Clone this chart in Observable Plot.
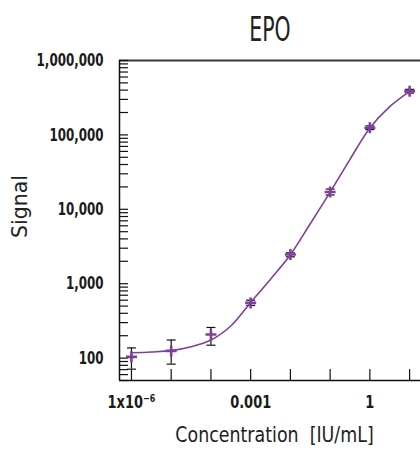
<!DOCTYPE html>
<html>
<head>
<meta charset="utf-8">
<script src="https://cdn.jsdelivr.net/npm/d3@7"></script>
<script src="https://cdn.jsdelivr.net/npm/@observablehq/plot@0.6"></script>
<style>
  html, body { margin: 0; padding: 0; background: #fff; }
  #chart svg { display: block; }
</style>
</head>
<body>
<div id="chart"></div>
<script>
// Concentrations (IU/mL) and measured signal with error bars
const concentrations = [1e-6, 1e-5, 1e-4, 1e-3, 1e-2, 1e-1, 1, 10];
const signal = [104, 125, 208, 552, 2465, 17060, 125000, 387000];
const errLow = [71, 83, 149, 510, 2300, 15600, 118000, 365000];
const errHigh = [137, 175, 258, 600, 2600, 18700, 132000, 410000];

// Fitted curve
const curveX = [1e-6, 10**-5.5, 1e-5, 10**-4.5, 1e-4, 10**-3.5, 1e-3, 10**-2.5, 1e-2, 10**-1.5, 1e-1, 10**-0.5, 1, 10**0.5, 10];
const curveY = [118, 121, 126, 142, 175, 270, 560, 1150, 2450, 6400, 17000, 47000, 124000, 240000, 385000];

// Tick labels
const yTickValues = [100, 1000, 10000, 100000, 1000000];
const xTickValues = [1e-6, 1e-3, 1];
const xTickLabels = ["1x10\u207B\u2076", "0.001", "1"];

const points = concentrations.map((c, i) => ({c, s: signal[i], lo: errLow[i], hi: errHigh[i]}));
const curve = curveX.map((c, i) => ({c, s: curveY[i]}));
const xLabelMap = new Map(xTickValues.map((v, i) => [v, xTickLabels[i]]));

const yDomain = [50, 1e6];
const xDomain = [5e-7, 18.8];
const yMinorTicks = d3.scaleLog().domain(yDomain).ticks();

const purple = "#80409a";
const ink = "#1a1a1a";
const font = "'DejaVu Sans', sans-serif";

const plusSymbol = {draw(ctx, size) { const r = Math.sqrt(size / Math.PI); ctx.moveTo(-r, 0); ctx.lineTo(r, 0); ctx.moveTo(0, -r); ctx.lineTo(0, r); }};
const capSymbol = {draw(ctx, size) { const r = Math.sqrt(size / Math.PI); ctx.moveTo(-r, 0); ctx.lineTo(r, 0); }};

const chart = Plot.plot({
  width: 420,
  height: 454,
  marginLeft: 119,
  marginRight: 0,
  marginTop: 60,
  marginBottom: 74,
  style: {fontFamily: font, background: "#fff"},
  x: {type: "log", domain: xDomain, label: null},
  y: {type: "log", domain: yDomain, label: null},
  marks: [
    // frame lines
    Plot.ruleY([yDomain[1]], {stroke: "#3a3a3a", strokeWidth: 2}),
    Plot.ruleY([yDomain[0]], {stroke: "#111", strokeWidth: 1.5}),
    Plot.ruleX([xDomain[0]], {stroke: "#111", strokeWidth: 1.5}),
    // inward ticks
    Plot.axisY({ticks: yMinorTicks, tickSize: -9, tickFormat: () => "", stroke: "#111", strokeWidth: 1.2}),
    Plot.axisX({ticks: concentrations, tickSize: -11, tickFormat: () => "", stroke: "#111", strokeWidth: 1.2}),
    // tick labels
    Plot.axisY({ticks: yTickValues, tickSize: 0, tickPadding: 16, tickFormat: d3.format(","), fontSize: 18, fontWeight: "bold", fill: ink}),
    Plot.axisX({ticks: xTickValues, tickSize: 0, tickPadding: 15, tickFormat: (d) => xLabelMap.get(d), fontSize: 18, fontWeight: "bold", fill: ink}),
    // error bars
    Plot.ruleX(points, {x: "c", y1: "lo", y2: "hi", stroke: "#111", strokeWidth: 1.2}),
    Plot.dot(points, {x: "c", y: "lo", symbol: capSymbol, r: 4.5, stroke: "#111", fill: "none", strokeWidth: 1.2}),
    Plot.dot(points, {x: "c", y: "hi", symbol: capSymbol, r: 4.5, stroke: "#111", fill: "none", strokeWidth: 1.2}),
    // fitted curve
    Plot.line(curve, {x: "c", y: "s", curve: "catmull-rom", stroke: purple, strokeWidth: 1.6}),
    // markers
    Plot.dot(points, {x: "c", y: "s", symbol: plusSymbol, r: 5.5, stroke: purple, fill: "none", strokeWidth: 2.6}),
    // titles
    Plot.text(["EPO"], {frameAnchor: "top", dy: -30.5, lineAnchor: "middle", textAnchor: "middle", fontSize: 34, fill: "#222"}),
    Plot.text(["Signal"], {frameAnchor: "left", dx: -99.5, dy: -14, rotate: -90, textAnchor: "middle", lineAnchor: "middle", fontSize: 20.5, fill: "#222"}),
    Plot.text(["Concentration\u00A0 [IU/mL]"], {frameAnchor: "bottom", dx: 4.5, dy: 54.5, lineAnchor: "middle", textAnchor: "middle", fontSize: 20.5, fill: "#222"})
  ]
});
document.getElementById("chart").appendChild(chart);

// Condense the glyphs horizontally to mimic the reference's narrow typeface
function condense(sel, k) {
  chart.querySelectorAll(sel).forEach((t) => {
    const w = t.getComputedTextLength();
    if (w > 0) { t.setAttribute("textLength", (w * k).toFixed(1)); t.setAttribute("lengthAdjust", "spacingAndGlyphs"); }
  });
}
condense('g[aria-label="y-axis tick label"] text', 0.66);
condense('g[aria-label="x-axis tick label"] text', 0.72);
chart.querySelectorAll('g[aria-label="text"] text').forEach((t) => {
  const s = t.textContent;
  const k = s === "EPO" ? 0.6 : s === "Signal" ? 1.0 : 0.85;
  const w = t.getComputedTextLength();
  if (w > 0 && k !== 1) { t.setAttribute("textLength", (w * k).toFixed(1)); t.setAttribute("lengthAdjust", "spacingAndGlyphs"); }
});
</script>
</body>
</html>
